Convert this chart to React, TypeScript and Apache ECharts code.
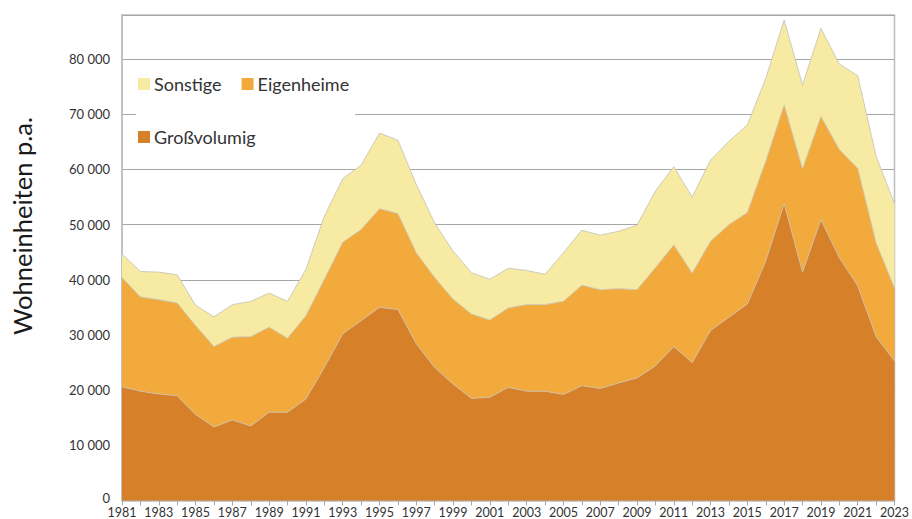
import React, { useEffect, useRef } from "react";
import * as echarts from "echarts";

const years: string[] = [];
for (let y = 1981; y <= 2023; y++) years.push(String(y));

const grossvolumig = [
  20600, 19800, 19300, 19000, 15600, 13300, 14600, 13500, 16000, 16000,
  18400, 24100, 30200, 32600, 35000, 34600, 28400, 24100, 21100, 18500,
  18700, 20500, 19800, 19800, 19200, 20800, 20300, 21300, 22200, 24400,
  27900, 25000, 30800, 33200, 35600, 43400, 53800, 41400, 50900, 44000,
  38900, 29700, 25300,
];
const eigenheime = [
  19800, 17100, 17100, 16800, 16100, 14600, 15000, 16200, 15400, 13400,
  15100, 16000, 16600, 16500, 17900, 17400, 16500, 16300, 15400, 15300,
  14000, 14400, 15700, 15700, 16900, 18200, 17900, 17100, 16000, 17800,
  18400, 16200, 16200, 16800, 16600, 18100, 17900, 18700, 18700, 19600,
  21300, 17000, 13200,
];
const sonstige = [
  4300, 4600, 5000, 5100, 3700, 5400, 5900, 6400, 6200, 6700,
  8400, 11400, 11500, 11700, 13700, 13300, 12400, 9900, 8700, 7500,
  7400, 7200, 6200, 5500, 8800, 10000, 9900, 10400, 11700, 13900,
  14200, 13800, 14700, 15100, 15900, 15000, 15400, 15200, 16000, 15500,
  16800, 15700, 15300,
];

const yTitle = "Wohneinheiten p.a.";
const FONT = "Lato, 'Liberation Sans', sans-serif";

export default function App() {
  const ref = useRef<HTMLDivElement>(null);
  useEffect(() => {
    document.body.style.margin = "0";
    if (!ref.current) return;
    const chart = echarts.init(ref.current, undefined, { renderer: "svg" });
    const areaLine = { color: "#c4c0b8", width: 0.8 };
    const legendText = { fontSize: 18, color: "#333", fontFamily: FONT, padding: [0, 0, 0, -1] };
    chart.setOption({
      animation: false,
      textStyle: { fontFamily: FONT },
      grid: {
        left: 122,
        right: 16,
        top: 15,
        bottom: 17,
        show: true,
        borderColor: "#bdbdbd",
        borderWidth: 1.5,
        backgroundColor: "transparent",
      },
      legend: [
        {
          data: ["Sonstige", "Eigenheime"],
          left: 136,
          top: 69,
          orient: "horizontal",
          padding: [6, 6, 24, 2],
          backgroundColor: "#fff",
          itemWidth: 12,
          itemHeight: 12,
          itemGap: 20,
          icon: "rect",
          selectedMode: false,
          textStyle: legendText,
        },
        {
          data: ["Großvolumig"],
          left: 138,
          top: 128,
          padding: 0,
          itemWidth: 12,
          itemHeight: 12,
          icon: "rect",
          selectedMode: false,
          textStyle: legendText,
        },
      ],
      graphic: [
        {
          type: "text",
          x: 22,
          y: 226,
          rotation: Math.PI / 2,
          style: {
            text: yTitle,
            fill: "#1a1a1a",
            font: `25.5px ${FONT}`,
            align: "center",
            verticalAlign: "middle",
            textAlign: "center",
            textVerticalAlign: "middle",
          },
        },
      ],
      xAxis: {
        type: "category",
        data: years,
        boundaryGap: false,
        axisLine: { show: true, lineStyle: { color: "#bdbdbd", width: 1.5 } },
        axisTick: { show: true, interval: 0, length: 5, lineStyle: { color: "#aaa" } },
        axisLabel: {
          interval: 1,
          color: "#333",
          fontSize: 12.5,
          lineHeight: 12,
          margin: 6,
          fontFamily: FONT,
        },
        splitLine: { show: false },
      },
      yAxis: {
        type: "value",
        min: 0,
        max: 88000,
        interval: 10000,
        axisLine: { show: true, lineStyle: { color: "#bdbdbd", width: 1.5 } },
        axisTick: { show: false },
        axisLabel: {
          color: "#333",
          fontSize: 13,
          margin: 12,
          fontFamily: FONT,
          rich: {
            z: { fontSize: 13, color: "#333", fontFamily: FONT, padding: [0, 0, 5, 0] },
          },
          formatter: (v: number) => {
            if (v > 80000) return "";
            if (v === 0) return "{z|0}";
            return `${Math.round(v / 1000)} 000`;
          },
        },
        splitLine: { show: true, lineStyle: { color: "#a6a6a6", width: 1.2 } },
      },
      series: [
        {
          name: "Großvolumig",
          type: "line",
          stack: "total",
          data: grossvolumig,
          showSymbol: false,
          symbol: "none",
          lineStyle: areaLine,
          itemStyle: { color: "#d6802a" },
          areaStyle: { color: "#d6802a", opacity: 1 },
        },
        {
          name: "Eigenheime",
          type: "line",
          stack: "total",
          data: eigenheime,
          showSymbol: false,
          symbol: "none",
          lineStyle: areaLine,
          itemStyle: { color: "#f3aa3c" },
          areaStyle: { color: "#f3aa3c", opacity: 1 },
        },
        {
          name: "Sonstige",
          type: "line",
          stack: "total",
          data: sonstige,
          showSymbol: false,
          symbol: "none",
          lineStyle: areaLine,
          itemStyle: { color: "#f7eaa2" },
          areaStyle: { color: "#f7eaa2", opacity: 1 },
        },
      ],
    });
    return () => chart.dispose();
  }, []);
  return <div ref={ref} style={{ width: 912, height: 519 }} />;
}
